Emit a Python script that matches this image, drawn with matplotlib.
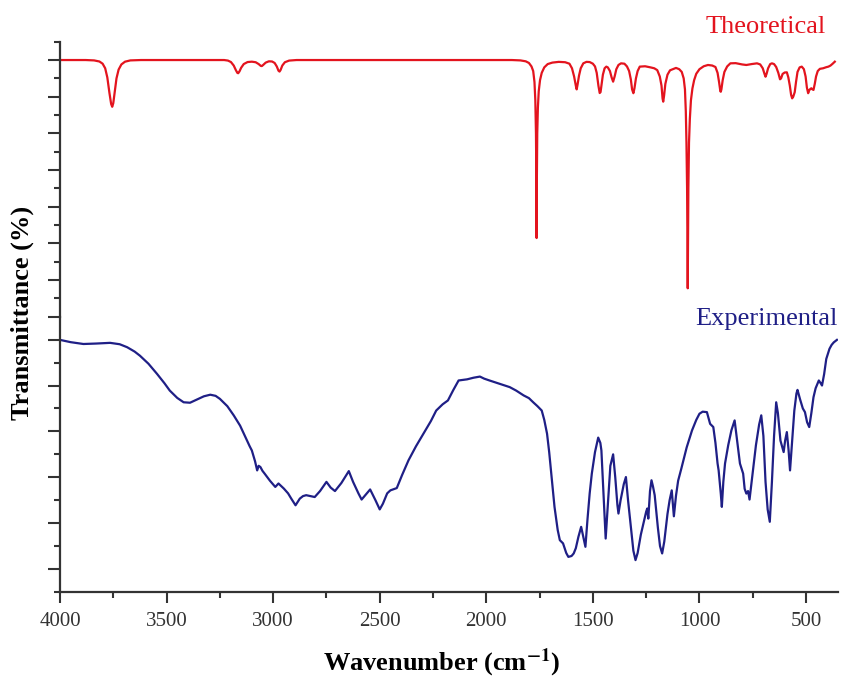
import numpy as np
import matplotlib
matplotlib.use("Agg")
import matplotlib.pyplot as plt
from matplotlib.ticker import FixedLocator, MultipleLocator

plt.rcParams['font.family'] = ['Liberation Serif', 'DejaVu Serif']
plt.rcParams['mathtext.fontset'] = 'stix'

# theoretical spectrum (wavenumber, transmittance in arbitrary offset units)
theo_wn = [4000, 3880, 3840, 3815, 3800, 3788, 3778, 3768, 3760, 3755, 3750, 3743, 3735, 3725,
           3712, 3695, 3670, 3620, 3230, 3212, 3198, 3185, 3175, 3168, 3164, 3158, 3150, 3138,
           3120, 3100, 3082, 3068, 3058, 3053, 3046, 3035, 3020, 3005, 2993, 2983, 2975, 2970,
           2965, 2957, 2945, 2925, 2890, 1880, 1840, 1815, 1800, 1788, 1780, 1774, 1770, 1767,
           1765, 1764, 1763, 1761, 1758, 1754, 1748, 1740, 1728, 1712, 1690, 1660, 1630, 1610,
           1598, 1588, 1580, 1576, 1572, 1565, 1557, 1545, 1530, 1515, 1500, 1490, 1482, 1474,
           1468, 1464, 1459, 1453, 1445, 1437, 1430, 1420, 1412, 1405, 1398, 1390, 1380, 1368,
           1352, 1340, 1330, 1322, 1316, 1310, 1305, 1298, 1290, 1280, 1255, 1230, 1212, 1198,
           1186, 1178, 1173, 1170, 1166, 1160, 1150, 1138, 1125, 1110, 1095, 1083, 1074, 1068,
           1064, 1061, 1058, 1055, 1052, 1049, 1045, 1040, 1033, 1025, 1015, 1000, 980, 960,
           940, 925, 915, 908, 902, 900, 897, 891, 883, 870, 855, 830, 800, 780, 755, 730, 715,
           703, 695, 690, 685, 678, 668, 660, 650, 640, 630, 622, 617, 610, 600, 590, 583, 576,
           570, 565, 560, 553, 547, 540, 530, 520, 510, 502, 496, 490, 485, 480, 475, 470, 465,
           459, 453, 445, 435, 420, 405, 395, 385, 375, 365]
theo_t = [140, 140, 139.8, 139.2, 138, 135.5, 130.5, 122, 116, 114.5, 116.5, 123, 130, 134.8,
          137.6, 139.1, 139.8, 140, 140, 139.7, 138.9, 137, 134.5, 133, 132.8, 133.8, 135.8, 137.8,
          138.9, 139.1, 138.8, 137.8, 136.8, 136.7, 137.4, 138.6, 139.3, 139.2, 138.4, 136.5, 134.2, 133.7,
          134.6, 137, 138.8, 139.7, 140, 140, 139.8, 139.3, 138.4, 136.5, 134, 128, 118, 100,
          72, 42.9, 72, 100, 114, 123, 129, 133, 136, 137.8, 138.6, 139, 138.8, 138,
          135.5, 131, 126, 124, 126.5, 131.5, 135.5, 138.2, 139, 138.9, 138, 136.5, 133, 126,
          122, 122.5, 127, 132, 135.5, 136.4, 136, 134, 130.5, 128.2, 131, 135, 137.3, 138.2,
          138, 136.5, 134, 129.5, 124, 121.9, 124.5, 130, 134, 136.4, 136.6, 136.0, 135.5, 134.5,
          131, 126, 119, 117.3, 120.5, 127, 132, 134.4, 135, 135.7, 135, 133.5, 130, 124,
          112, 95, 70, 15.5, 70, 95, 108, 118, 124.5, 129, 132.5, 135, 136.6, 137.3,
          137, 136.2, 133, 128, 123, 122.7, 124, 129, 133.5, 136.5, 138.2, 138.3, 137.6, 137.3, 137.8, 138.2, 137.6,
          135.5, 132.5, 130.9, 132.5, 135.5, 137.8, 138.2, 137.8, 136.2, 133, 129.5, 130, 132.4, 133.2, 133.3, 130.5, 126,
          121, 119.1, 120, 122.5, 128, 133.5, 136, 136.4, 135, 131, 125, 121.9, 123.5, 124.2, 124.6, 124, 123.7,
          127, 131, 134, 135.2, 135.5, 136.1, 136.4, 137, 138, 139.1]

# experimental spectrum
exp_wn = [4000, 3950, 3890, 3830, 3765, 3720, 3685, 3650, 3625, 3585, 3545, 3510, 3485, 3450,
          3420, 3390, 3360, 3325, 3295, 3270, 3250, 3215, 3185, 3155, 3130, 3110, 3100, 3085,
          3075, 3068, 3060, 3050, 3040, 3015, 2990, 2975, 2950, 2930, 2915, 2895, 2875, 2860,
          2845, 2805, 2780, 2750, 2730, 2710, 2680, 2645, 2625, 2600, 2585, 2565, 2545, 2520,
          2500, 2485, 2465, 2450, 2420, 2395, 2365, 2330, 2295, 2260, 2235, 2205, 2180, 2155,
          2130, 2090, 2060, 2030, 2010, 1985, 1935, 1890, 1860, 1825, 1800, 1780, 1760, 1740,
          1728, 1715, 1705, 1695, 1680, 1665, 1655, 1640, 1625, 1615, 1600, 1590, 1580, 1568,
          1555, 1545, 1535, 1525, 1515, 1505, 1490, 1475, 1465, 1460, 1450, 1440, 1430, 1418,
          1405, 1395, 1385, 1380, 1370, 1355, 1345, 1335, 1320, 1310, 1300, 1290, 1275, 1260,
          1250, 1245, 1240, 1232, 1225, 1218, 1210, 1195, 1185, 1175, 1165, 1150, 1140, 1130,
          1120, 1110, 1100, 1085, 1060, 1035, 1015, 1000, 985, 965, 950, 935, 925, 915, 910,
          900, 895, 888, 880, 865, 850, 835, 822, 810, 795, 788, 780, 772, 765, 750, 735, 720,
          710, 700, 690, 680, 670, 660, 650, 640, 632, 620, 605, 598, 590, 582, 575, 565, 555,
          545, 540, 528, 515, 505, 495, 485, 475, 465, 455, 440, 430, 425, 415, 405, 390, 380,
          370, 355]
exp_t = [109.9, 108.9, 108.1, 108.3, 108.6, 108, 106.7, 104.8, 103.0, 99.5, 95.1, 91, 87.8, 84.6,
         82.7, 82.5, 83.8, 85.3, 86.0, 85.5, 84.2, 81, 77.0, 72.5, 67.5, 63.5, 61.7, 57,
         53.0, 55, 54.5, 52.8, 51.6, 48.5, 45.8, 47.3, 45.1, 43, 40.7, 37.8, 40.7, 41.8,
         42.2, 41.4, 44, 48.0, 45.5, 44.0, 47.5, 52.7, 48, 43, 40.3, 42.5, 44.7, 40,
         36.0, 38.5, 43, 44.3, 45.3, 51, 57.4, 63.5, 69.0, 74.5, 79.1, 81.8, 83.5, 88,
         92.2, 92.7, 93.4, 93.9, 93, 92.2, 90.7, 89.3, 87.8, 85.7, 84.5, 82.7, 81, 79.1,
         75, 69.0, 61, 51.6, 37.1, 27, 22.6, 21.2, 17, 15.3, 15.7, 16.8, 19.1, 24,
         28.4, 24, 19.7, 32, 43, 51.6, 61, 67.3, 65, 61.7, 42, 23.3, 38, 55,
         60.0, 50, 38, 34.2, 40.0, 47, 50.1, 40.0, 27, 18, 13.9, 17, 25, 31,
         35, 36.4, 32.0, 44, 48.7, 46, 42.2, 28, 20, 16.8, 22, 34, 40, 44.3,
         33.0, 42, 48.5, 53.8, 63, 70.4, 75, 77.7, 78.6, 78.4, 73.3, 71.9, 65, 56, 53.0,
         43, 37.1, 48, 56.0, 64, 70.5, 74.8, 65, 56, 51.6, 45, 42.9, 44, 40.3, 52, 64, 73,
         77.0, 68, 48, 36, 30.6, 48, 68, 82.7, 78, 66, 61.0, 66, 69.7, 62, 53.0, 66, 79,
         86.5, 88.1, 84, 80, 78.4, 74, 71.9, 78, 84.9, 88.8, 92.2, 90.8, 90.0, 95, 101.6, 106, 107.7,
         108.8, 109.9]

x_ticks = [4000, 3500, 3000, 2500, 2000, 1500, 1000, 500]

W, H = 843, 680
fig = plt.figure(figsize=(W / 100, H / 100), dpi=100)
left = 60 / W
width = 778 / W
ax_bot = fig.add_axes([left, (H - 592) / H, width, (592 - 316.7) / H])
ax_top = fig.add_axes([left, (H - 316.7) / H, width, (316.7 - 41.7) / H])

red = '#e3141e'
navy = '#1f1f86'
spine_c = '#333333'

ax_top.plot(theo_wn, theo_t, color=red, lw=1.6, solid_joinstyle='round')
ax_bot.plot(exp_wn, exp_t, color=navy, lw=1.6, solid_joinstyle='round')

for ax in (ax_top, ax_bot):
    ax.set_xlim(4000, 350)
    ax.patch.set_alpha(0)
    ax.spines['top'].set_visible(False)
    ax.spines['right'].set_visible(False)
    ax.spines['left'].set_color(spine_c)
    ax.spines['left'].set_linewidth(1.6)
    ax.tick_params(axis='y', which='major', length=8.5, width=1.5, color=spine_c, labelleft=False)
    ax.tick_params(axis='y', which='minor', length=4.3, width=1.5, color=spine_c)

ax_top.set_ylim(0, 150)
ax_top.yaxis.set_major_locator(FixedLocator([0, 20, 40, 60, 80, 100, 120, 140]))
ax_top.yaxis.set_minor_locator(FixedLocator([10, 30, 50, 70, 90, 110, 130, 150]))
ax_top.spines['bottom'].set_visible(False)
ax_top.tick_params(axis='x', which='both', bottom=False, labelbottom=False)

ax_bot.set_ylim(0, 120)
ax_bot.yaxis.set_major_locator(FixedLocator([10, 30, 50, 70, 90, 110]))
ax_bot.yaxis.set_minor_locator(FixedLocator([0, 20, 40, 60, 80, 100]))
ax_bot.spines['bottom'].set_color(spine_c)
ax_bot.spines['bottom'].set_linewidth(1.6)
ax_bot.xaxis.set_major_locator(FixedLocator(x_ticks))
ax_bot.xaxis.set_minor_locator(MultipleLocator(250))
ax_bot.tick_params(axis='x', which='major', length=8, width=1.5, color=spine_c,
                   labelsize=15, labelcolor='#333333', pad=6.5)
ax_bot.tick_params(axis='x', which='minor', length=4, width=1.5, color=spine_c)

fig.text(826 / W, 1 - 33 / H, 'Theoretical', color=red, fontsize=19,
         ha='right', va='baseline')
fig.text(838 / W, 1 - 325 / H, 'Experimental', color=navy, fontsize=19,
         ha='right', va='baseline')
fig.text(442 / W, 1 - 670 / H, r'Wavenumber (cm$^{\mathbf{-1}}$)', fontsize=19,
         fontweight='bold', ha='center', va='baseline')
fig.text(22 / W, 1 - 313 / H, 'Transmittance (%)', fontsize=19, fontweight='bold',
         rotation=90, ha='center', va='center')

fig.savefig('out.png', dpi=100)
